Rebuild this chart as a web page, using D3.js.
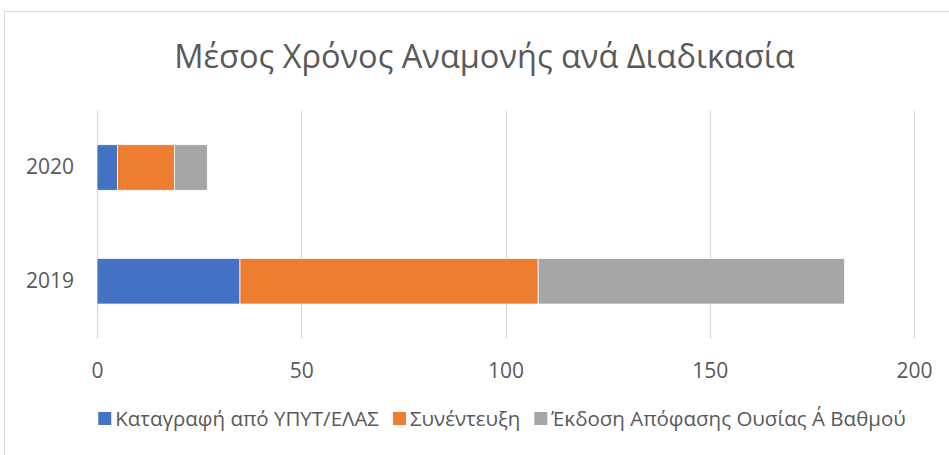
<!DOCTYPE html>
<html>
<head>
  <meta charset="utf-8">
  <title>Μέσος Χρόνος Αναμονής</title>
  <script src="https://d3js.org/d3.v7.min.js"></script>
  <style>
    body { margin: 0; background: #fff; }
  </style>
</head>
<body>
  <div id="chart"></div>
  <script>
    var years = ["2020", "2019"];
    var seriesNames = ["Καταγραφή από ΥΠΥΤ/ΕΛΑΣ", "Συνέντευξη", "Έκδοση Απόφασης Ουσίας Α΄ Βαθμού"];
    var registration = [5, 35];
    var interview = [14, 73];
    var decision = [8, 75];
    var xTicks = [0, 50, 100, 150, 200];
    var colors = ["#4472C4", "#ED7D31", "#A5A5A5"];

    var W = 949, H = 455;
    var plot = {left: 97, right: 914, top: 110.6, bottom: 338.2};

    // rows for d3.stack
    var rows = years.map(function(y, i) {
      var r = {year: y};
      r[seriesNames[0]] = registration[i];
      r[seriesNames[1]] = interview[i];
      r[seriesNames[2]] = decision[i];
      return r;
    });

    var svg = d3.select("#chart").append("svg")
      .attr("width", W)
      .attr("height", H);

    svg.append("rect")
      .attr("x", 4.5).attr("y", 11.5)
      .attr("width", 970).attr("height", 470)
      .attr("fill", "#fff")
      .attr("stroke", "#d9d9d9")
      .attr("stroke-width", 1);

    var x = d3.scaleLinear().domain([0, 200]).range([plot.left, plot.right]);
    var y = d3.scaleBand().domain(years).range([plot.top, plot.bottom])
      .paddingInner(0.6).paddingOuter(0.3);

    // gridlines
    svg.append("g").selectAll("line")
      .data(xTicks).enter().append("line")
      .attr("x1", function(d) { return Math.round(x(d)) + 0.5; })
      .attr("x2", function(d) { return Math.round(x(d)) + 0.5; })
      .attr("y1", plot.top).attr("y2", plot.bottom)
      .attr("stroke", "#d9d9d9")
      .attr("stroke-width", 1.3);

    var stack = d3.stack().keys(seriesNames)(rows);

    svg.append("g").selectAll("g")
      .data(stack).enter().append("g")
      .attr("fill", function(d, i) { return colors[i]; })
      .selectAll("rect")
      .data(function(d) { return d; })
      .enter().append("rect")
      .attr("x", function(d) { return x(d[0]); })
      .attr("y", function(d) { return y(d.data.year); })
      .attr("width", function(d) { return x(d[1]) - x(d[0]); })
      .attr("height", y.bandwidth())
      .attr("stroke", "#fff")
      .attr("stroke-width", 0.75);

    // x axis labels
    var xAxis = svg.append("g")
      .attr("transform", "translate(0," + 363 + ")")
      .call(d3.axisBottom(x).tickValues(xTicks).tickSize(0).tickPadding(0));
    xAxis.select(".domain").remove();
    xAxis.selectAll("text")
      .attr("dy", "0.71em")
      .attr("font-size", 21)
      .attr("font-family", "'Open Sans', sans-serif")
      .attr("fill", "#595959");

    // y axis labels
    var yAxis = svg.append("g")
      .attr("transform", "translate(" + 74 + ",0)")
      .call(d3.axisLeft(y).tickSize(0).tickPadding(0));
    yAxis.select(".domain").remove();
    yAxis.selectAll("text")
      .attr("font-size", 21)
      .attr("font-family", "'Open Sans', sans-serif")
      .attr("fill", "#595959");

    // title
    svg.append("text")
      .attr("x", 484.5)
      .attr("y", 67.5)
      .attr("text-anchor", "middle")
      .attr("font-size", 32.5)
      .attr("font-family", "'Open Sans', sans-serif")
      .attr("fill", "#595959")
      .text("Μέσος Χρόνος Αναμονής ανά Διαδικασία");

    // legend
    var legend = svg.append("g");
    var lx = 0;
    seriesNames.forEach(function(name, i) {
      var item = legend.append("g").attr("transform", "translate(" + lx + ",0)");
      item.append("rect")
        .attr("x", 0).attr("y", -14)
        .attr("width", 13).attr("height", 13)
        .attr("fill", colors[i]);
      var t = item.append("text")
        .attr("x", 17).attr("y", 0)
        .attr("font-size", 20.5)
        .attr("font-family", "'Open Sans', sans-serif")
        .attr("fill", "#595959")
        .text(name);
      lx += 17 + t.node().getComputedTextLength() + 14;
    });
    lx -= 14;
    legend.attr("transform", "translate(" + (502 - lx / 2) + "," + 426 + ")");
  </script>
</body>
</html>
